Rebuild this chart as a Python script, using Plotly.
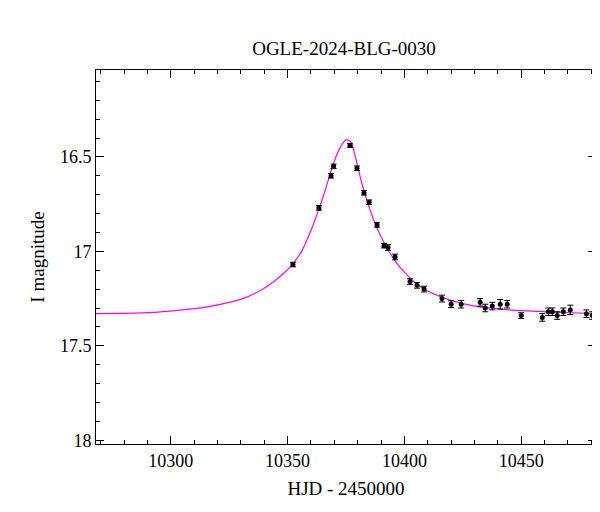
import plotly.graph_objects as go

# observed photometry
hjd = [10352.3, 10363.4, 10368.6, 10369.7, 10376.7, 10379.7, 10382.7, 10384.9, 10388.3,
       10391.3, 10393.0, 10396.0, 10402.4, 10405.4, 10408.4, 10416.1, 10420.0, 10424.3,
       10432.4, 10434.6, 10437.6, 10441.0, 10444.0, 10450.0, 10459.0, 10461.6, 10463.3,
       10465.4, 10468.0, 10471.0, 10477.9, 10480.4]
mag = [17.07, 16.77, 16.60, 16.55, 16.44, 16.56, 16.69, 16.74, 16.86,
       16.97, 16.98, 17.03, 17.16, 17.18, 17.20, 17.25, 17.28, 17.28,
       17.27, 17.30, 17.29, 17.28, 17.28, 17.34, 17.35, 17.32, 17.32,
       17.34, 17.32, 17.31, 17.33, 17.34]
err = [0.012, 0.012, 0.012, 0.012, 0.01, 0.012, 0.012, 0.012, 0.012,
       0.012, 0.015, 0.015, 0.015, 0.015, 0.015, 0.018, 0.018, 0.02,
       0.02, 0.02, 0.02, 0.025, 0.02, 0.015, 0.02, 0.02, 0.02,
       0.02, 0.02, 0.025, 0.02, 0.02]

# model curve
model_t = [10268, 10290, 10305, 10315, 10325, 10332, 10338, 10343, 10348, 10352, 10356,
           10360, 10363, 10366, 10369, 10371, 10373, 10375, 10377, 10379, 10382, 10385,
           10388, 10392, 10396, 10400, 10405, 10410, 10420, 10430, 10445, 10460, 10482]
model_m = [17.33, 17.325, 17.31, 17.295, 17.27, 17.245, 17.21, 17.17, 17.12, 17.07, 17.0,
           16.89, 16.79, 16.68, 16.56, 16.49, 16.44, 16.41, 16.42, 16.50, 16.65, 16.77,
           16.87, 16.97, 17.05, 17.11, 17.17, 17.21, 17.26, 17.29, 17.31, 17.32, 17.33]

font = "Liberation Serif"
fig = go.Figure()
fig.add_trace(go.Scatter(x=model_t, y=model_m, mode="lines",
                         line=dict(color="#ff00ff", width=1.2, shape="spline", smoothing=0.8),
                         showlegend=False))
fig.add_trace(go.Scatter(x=hjd, y=mag, mode="markers",
                         marker=dict(color="black", size=5),
                         error_y=dict(type="data", array=err, color="black", thickness=1, width=3),
                         showlegend=False))

axis = dict(showline=True, linecolor="black", linewidth=1, mirror="allticks", ticks="inside",
            ticklen=8, tickcolor="black", showgrid=False, zeroline=False, automargin=False,
            tickfont=dict(family=font, size=18, color="black"))
xt = [10300, 10350, 10400, 10450]
yt = [16.5, 17, 17.5, 18]
fig.update_layout(
    width=600, height=512, plot_bgcolor="white", paper_bgcolor="white",
    margin=dict(l=88, r=12, t=62, b=76),
    title=dict(text="OGLE-2024-BLG-0030", x=0.56, y=0.935, xanchor="center",
               font=dict(family=font, size=19, color="black")),
    xaxis=dict(axis, range=[10268, 10482], tickvals=xt, ticktext=[str(v) for v in xt],
               minor=dict(dtick=10, ticks="inside", ticklen=4, tickcolor="black"),
               title=dict(text="HJD - 2450000", standoff=12,
                          font=dict(family=font, size=19, color="black"))),
    yaxis=dict(axis, range=[18.02, 16.04], tickvals=yt, ticktext=["16.5", "17", "17.5", "18"],
               minor=dict(dtick=0.1, ticks="inside", ticklen=4, tickcolor="black"),
               title=dict(text="I magnitude", standoff=10,
                          font=dict(family=font, size=19, color="black"))),
)
fig.write_html("out.html")
